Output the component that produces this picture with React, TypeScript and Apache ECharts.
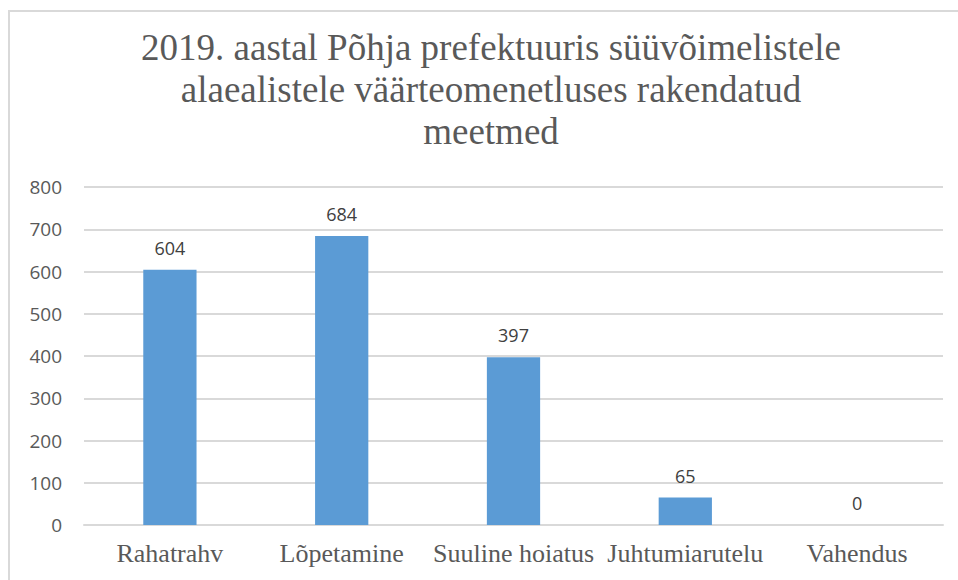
import React, { useEffect, useRef } from "react";
import * as echarts from "echarts";

const titleLines = [
  "2019. aastal Põhja prefektuuris süüvõimelistele",
  "alaealistele väärteomenetluses rakendatud",
  "meetmed",
];
const categories = ["Rahatrahv", "Lõpetamine", "Suuline hoiatus", "Juhtumiarutelu", "Vahendus"];
const values = [604, 684, 397, 65, 0];
const yMin = 0;
const yMax = 800;
const yStep = 100;

export default function App() {
  const ref = useRef<HTMLDivElement>(null);
  useEffect(() => {
    if (!ref.current) return;
    const chart = echarts.init(ref.current, null, { renderer: "svg" });
    chart.setOption({
      animation: false,
      backgroundColor: "#ffffff",
      graphic: [
        {
          type: "rect",
          shape: { x: 9, y: 11, width: 1000, height: 620 },
          style: { fill: "none", stroke: "#d9d9d9", lineWidth: 2 },
          silent: true,
        },
        {
          type: "text",
          x: 491,
          y: 26,
          style: {
            text: titleLines.join("\n"),
            fontFamily: "'Liberation Serif', 'Times New Roman', serif",
            fontSize: 37,
            lineHeight: 42,
            fill: "#595959",
            textAlign: "center",
            textVerticalAlign: "top",
          },
        },
      ],
      grid: { left: 84, right: 15, top: 187, bottom: 55, containLabel: false },
      xAxis: {
        type: "category",
        data: categories,
        axisLine: { show: true, lineStyle: { color: "#d9d9d9", width: 2 } },
        axisTick: { show: false },
        axisLabel: {
          interval: 0,
          margin: 15,
          color: "#595959",
          fontFamily: "'Liberation Serif', 'Times New Roman', serif",
          fontSize: 26,
        },
      },
      yAxis: {
        type: "value",
        min: yMin,
        max: yMax,
        interval: yStep,
        axisLine: { show: false },
        axisTick: { show: false },
        splitLine: { show: true, lineStyle: { color: "#d9d9d9", width: 2 } },
        axisLabel: {
          margin: 22,
          color: "#595959",
          fontFamily: "'Open Sans', 'Noto Sans', sans-serif",
          fontSize: 19,
        },
      },
      series: [
        {
          type: "bar",
          data: values,
          barWidth: "31%",
          itemStyle: { color: "#5b9bd5" },
          label: {
            show: true,
            position: "top",
            distance: 13,
            color: "#404040",
            fontFamily: "'Open Sans', 'Noto Sans', sans-serif",
            fontSize: 18,
            lineHeight: 18,
          },
        },
      ],
    });
    return () => chart.dispose();
  }, []);
  return (
    <div
      ref={ref}
      style={{ position: "absolute", left: 0, top: 0, width: 958, height: 580 }}
    />
  );
}
